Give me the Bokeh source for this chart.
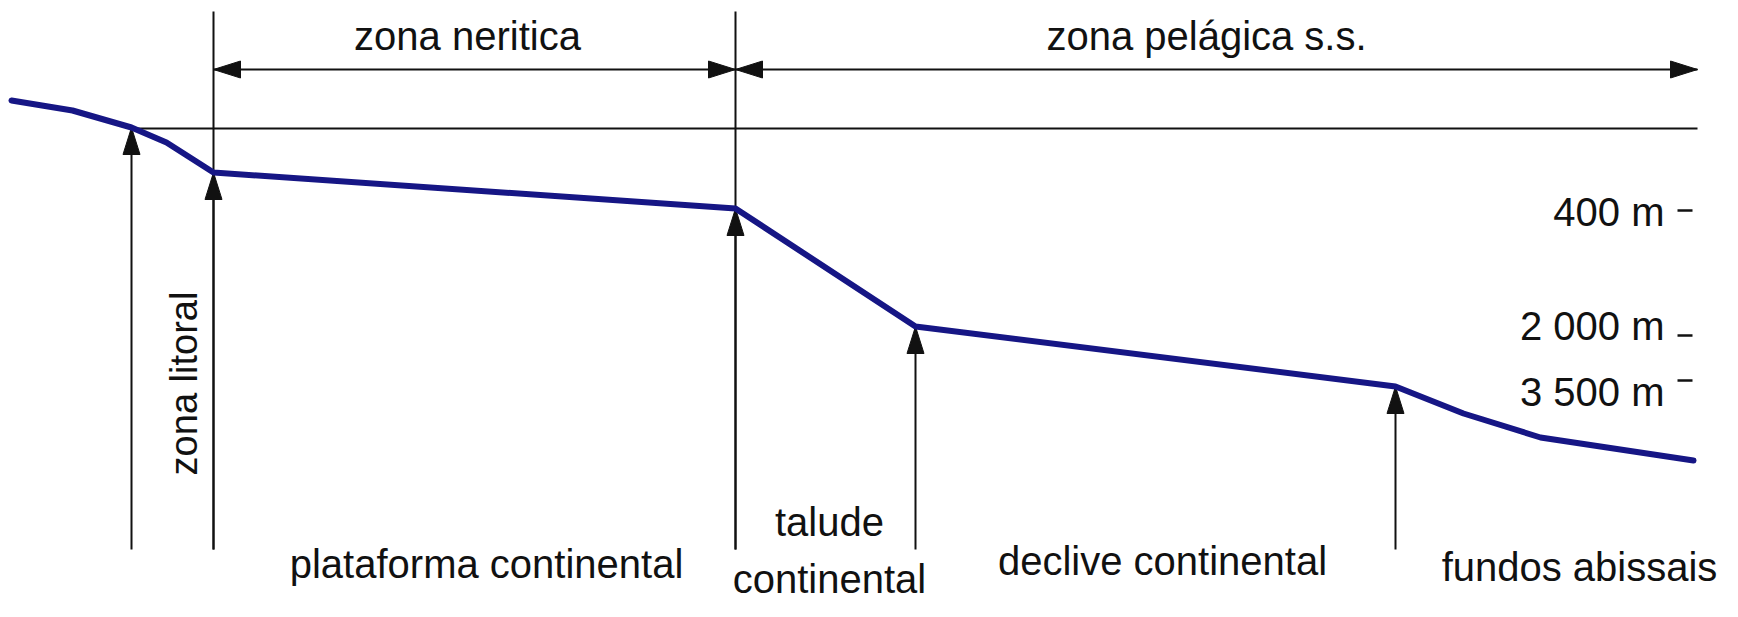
import numpy as np
from bokeh.plotting import figure
from bokeh.models import Range1d
from bokeh.core.properties import value
from bokeh.embed import file_html
from bokeh.resources import INLINE

# ---- data (schematic units) ----
profile_dist = [11, 72, 131, 166, 213, 735, 915, 1395, 1463, 1540, 1693]
profile_elev = [-100, -110, -127, -142, -172, -208, -326, -386, -413, -437, -460]
sea_level = -128
marker_idx = [2, 4, 5, 6, 7]          # profile vertices pointed at from below
boundary_idx = [4, 5]                  # vertices carrying full-height boundaries
zone_top = -11
zone_bottom = -549
zone_arrow_elev = -69
zone_right_end = 1697

zone_labels = ["zona neritica", "zona pelágica s.s."]
zone_label_x = [467, 1206]
zone_label_elev = [-47, -47]

depth_labels = ["400 m", "2 000 m", "3 500 m"]
depth_label_elev = [-223, -337, -403]
depth_tick_elev = [-210, -335, -380]

bottom_labels = ["plataforma continental", "talude", "continental",
                 "declive continental", "fundos abissais"]
bottom_label_x = [486, 829, 829, 1162, 1579]
bottom_label_elev = [-575, -533, -590, -572, -578]

litoral_label = "zona litoral"
litoral_x, litoral_elev = 195, -383

FONT = "Liberation Sans"
NAVY = "#161685"
INK = "#111111"
BASE_SHIFT = 12   # renderer draws "alphabetic" text this much lower

p = figure(width=1722, height=601, output_backend="svg", toolbar_location=None,
           x_range=Range1d(0, 1722), y_range=Range1d(-601, 0),
           min_border=0)
p.axis.visible = False
p.grid.visible = False
p.outline_line_color = None
p.background_fill_color = "white"
p.border_fill_color = "white"

HEAD_L, HEAD_W = 27, 8.5


def head(tx, ty, dx, dy):
    n = np.hypot(dx, dy)
    dx, dy = dx / n, dy / n
    bx, by = tx - HEAD_L * dx, ty - HEAD_L * dy
    px, py = -dy, dx
    return ([tx, bx + HEAD_W * px, bx - HEAD_W * px],
            [ty, by + HEAD_W * py, by - HEAD_W * py])


heads_x, heads_y = [], []

# sea level
p.line([profile_dist[2], zone_right_end], [sea_level, sea_level],
       line_color=INK, line_width=2)

# boundaries (full height)
bx = [profile_dist[i] for i in boundary_idx]
p.segment(x0=bx, y0=[zone_top] * len(bx), x1=bx, y1=[zone_bottom] * len(bx),
          line_color=INK, line_width=2)

# up-arrows from below to the profile
mx = [profile_dist[i] for i in marker_idx]
my = [profile_elev[i] for i in marker_idx]
p.segment(x0=mx, y0=[zone_bottom] * len(mx), x1=mx, y1=my,
          line_color=INK, line_width=2)
for x, y in zip(mx, my):
    hx, hy = head(x, y, 0, 1)
    heads_x.append(hx); heads_y.append(hy)

# zone arrows
zx = [bx[0], bx[1], zone_right_end]
p.line(zx, [zone_arrow_elev] * 3, line_color=INK, line_width=2)
for a, b in [(zx[0], zx[1]), (zx[1], zx[2])]:
    hx, hy = head(a, zone_arrow_elev, -1, 0); heads_x.append(hx); heads_y.append(hy)
    hx, hy = head(b, zone_arrow_elev, 1, 0); heads_x.append(hx); heads_y.append(hy)

p.patches(heads_x, heads_y, fill_color=INK, line_color=INK, line_width=1)

# profile
p.line(profile_dist, profile_elev, line_color=NAVY, line_width=6,
       line_join="round", line_cap="round")

# depth ticks
p.segment(x0=[1677] * 3, y0=depth_tick_elev, x1=[1692] * 3, y1=depth_tick_elev,
          line_color=INK, line_width=2.5)

common = dict(text_font=value(FONT), text_color=INK, text_baseline="alphabetic")


def up(v):
    return [e + BASE_SHIFT for e in v]


p.text(x=zone_label_x, y=up(zone_label_elev), text=zone_labels, text_align="center",
       text_font_size="40px", **common)
p.text(x=[1664] * 3, y=up(depth_label_elev), text=depth_labels, text_align="right",
       text_font_size="40px", **common)
p.text(x=bottom_label_x, y=up(bottom_label_elev), text=bottom_labels, text_align="center",
       text_font_size="40px", **common)
p.text(x=[litoral_x - BASE_SHIFT], y=[litoral_elev], text=[litoral_label],
       text_align="center", angle=np.pi / 2, text_font_size="38px", **common)

open("out.html", "w").write(file_html(p, INLINE))
